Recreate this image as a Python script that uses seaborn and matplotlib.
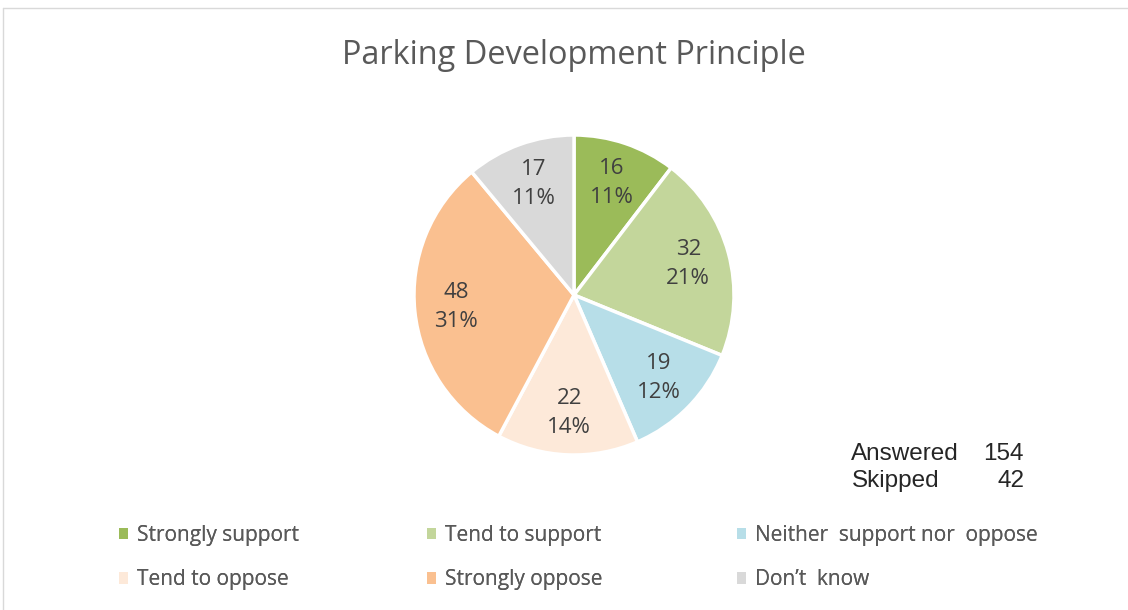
import matplotlib.pyplot as plt
import seaborn as sns
from matplotlib.lines import Line2D
from matplotlib.patches import Patch

# data
categories = ["Strongly support", "Tend to support", "Neither  support nor  oppose",
              "Tend to oppose", "Strongly oppose", "Don\u2019t  know"]
counts = [16, 32, 19, 22, 48, 17]
pct_labels = ["11%", "21%", "12%", "14%", "31%", "11%"]
colors = ["#9BBB59", "#C3D69B", "#B7DEE8", "#FDE9D9", "#FAC090", "#D9D9D9"]
answered = 154
skipped = 42

sns.set_theme(style="white")
plt.rcParams["font.family"] = ["Open Sans", "DejaVu Sans"]

W, H = 1128, 610
fig = plt.figure(figsize=(W / 100, H / 100), dpi=100)

# pie centred at (574, 295) px with radius 160 px
cx, cy, r = 574, 295, 160
ax = fig.add_axes([(cx - r) / W, (H - cy - r) / H, 2 * r / W, 2 * r / H])
labels = [f"{c}\n{p}" for c, p in zip(counts, pct_labels)]
wedges, texts = ax.pie(
    counts, colors=colors, startangle=90, counterclock=False,
    labels=labels, labeldistance=0.74,
    wedgeprops=dict(edgecolor="white", linewidth=2.5),
    textprops=dict(color="#404040", fontsize=16, linespacing=1.5),
)
for t in texts:
    t.set_ha("center")
    t.set_va("center")
ax.set_xlim(-1, 1)
ax.set_ylim(-1, 1)
ax.set_aspect("auto")

fig.text(574 / W, 1 - 55 / H, "Parking Development Principle", ha="center", va="center",
         fontsize=23.4, color="#595959")

# answered / skipped box
txt = dict(fontsize=17.5, color="#262626", family="Liberation Sans", va="center")
fig.text(851 / W, 1 - 454 / H, "Answered", ha="left", **txt)
fig.text(1024 / W, 1 - 454 / H, str(answered), ha="right", **txt)
fig.text(852 / W, 1 - 481 / H, "Skipped", ha="left", **txt)
fig.text(1024 / W, 1 - 481 / H, str(skipped), ha="right", **txt)

# legend: three columns, two rows
col_x = [119, 427, 737]
for i, x in enumerate(col_x):
    idx = [i, i + 3]
    handles = [Patch(facecolor=colors[j], edgecolor="none") for j in idx]
    leg = fig.legend(handles, [categories[j] for j in idx], loc="upper left",
                     bbox_to_anchor=(x / W, 1 - 525 / H), frameon=False,
                     fontsize=15, labelcolor="#595959", handlelength=0.45,
                     handleheight=0.45, handletextpad=0.4, labelspacing=1.12,
                     borderaxespad=0, borderpad=0)
    fig.add_artist(leg)

# chart frame
fig.add_artist(Line2D([3 / W, 1], [1 - 8 / H, 1 - 8 / H], transform=fig.transFigure,
                      color="#D9D9D9", linewidth=1))
fig.add_artist(Line2D([3 / W, 3 / W], [0, 1 - 8 / H], transform=fig.transFigure,
                      color="#D9D9D9", linewidth=1))

fig.savefig("out.png", dpi=100, facecolor="white")
